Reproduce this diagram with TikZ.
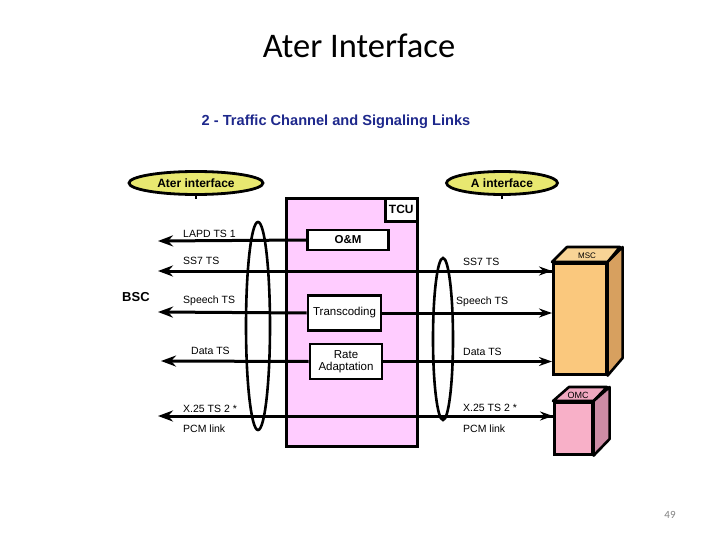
\documentclass[tikz,border=0pt]{standalone}
\usepackage{fontspec}
\setmainfont{Liberation Sans}
\newfontfamily\titlefont{Carlito}
\usetikzlibrary{shapes.geometric,arrows.meta}
\definecolor{tcupink}{RGB}{255,204,255}
\definecolor{ellyellow}{RGB}{232,232,112}
\definecolor{subblue}{RGB}{30,40,140}
\definecolor{mscfront}{RGB}{250,200,125}
\definecolor{msctop}{RGB}{248,212,150}
\definecolor{mscside}{RGB}{215,160,95}
\definecolor{omcfront}{RGB}{248,176,200}
\definecolor{omctop}{RGB}{240,168,192}
\definecolor{omcside}{RGB}{205,140,165}
\definecolor{pagegray}{RGB}{130,130,130}
\begin{document}
\begin{tikzpicture}[x=1pt,y=-1pt,
  link/.style={line width=3pt},
  ltip/.style={-{Stealth[length=15pt,width=11pt]}},
  rtip/.style={-{Stealth[length=13pt,width=9pt]}},
  ibox/.style={draw,line width=2.6pt,fill=white,inner sep=0pt,align=center,font=\fontsize{11.5}{12.5}\selectfont},
  ifell/.style={draw,ellipse,line width=2.8pt,fill=ellyellow,inner sep=0pt,font=\bfseries\fontsize{12}{13}\selectfont},
  grpell/.style={draw,ellipse,line width=2.6pt,inner sep=0pt},
  lbl/.style={anchor=west,inner sep=0pt,font=\fontsize{10.5}{12}\selectfont},
  cube/.style={draw,line width=2.6pt,line join=round},
  cubelbl/.style={inner sep=0pt,font=\fontsize{8}{9}\selectfont}]
\useasboundingbox (0,0) rectangle (720,540);
\fill[white] (0,0) rectangle (720,540);

% titles
\node[font=\titlefont\fontsize{34.5}{40}\selectfont] (title) at (359,46) {Ater Interface};
\node[font=\bfseries\fontsize{14.6}{17}\selectfont,text=subblue] (sub) at (336,122) {2 - Traffic Channel and Signaling Links};

% interface ellipses
\node[ifell,minimum width=134pt,minimum height=23pt] (ater) at (196,183) {Ater interface};
\node[ifell,minimum width=111pt,minimum height=23pt] (aif) at (502,183) {A interface};
\draw[line width=1.6pt] (196,196) -- (196,199);
\draw[line width=1.6pt] (502,196) -- (502,199);

% TCU
\node[draw,line width=2.6pt,fill=tcupink,anchor=north west,minimum width=131pt,minimum height=248pt,inner sep=0pt] (tcu) at (285,197) {};

% MSC cube
\node[draw,line width=2.6pt,fill=mscfront,anchor=north west,minimum width=53pt,minimum height=111pt,inner sep=0pt] (msc) at (552,262) {};
\draw[cube,fill=msctop] (msc.north west) -- ++(15,-15) -- ++(53,0) -- (msc.north east) -- cycle;
\draw[cube,fill=mscside] (msc.north east) -- ++(15,-15) -- ++(0,111) -- (msc.south east) -- cycle;
\node[cubelbl] (msclbl) at (587,256) {MSC};

% OMC cube
\node[draw,line width=2.6pt,fill=omcfront,anchor=north west,minimum width=38pt,minimum height=52pt,inner sep=0pt] (omc) at (553,401) {};
\draw[cube,fill=omctop] (omc.north west) -- ++(16,-14) -- ++(38,0) -- (omc.north east) -- cycle;
\draw[cube,fill=omcside] (omc.north east) -- ++(16,-14) -- ++(0,52) -- (omc.south east) -- cycle;
\node[cubelbl,font=\fontsize{9}{10}\selectfont] (omclbl) at (578,395) {OMC};

% left ends of links
\coordinate (lapdL) at (158,241);
\coordinate (ss7L) at (158,271);
\coordinate (spL) at (158,312);
\coordinate (dataL) at (161,361);
\coordinate (x25L) at (158,416);

\node[ibox,minimum width=81pt,minimum height=20pt] (om) at (348,240) {\bfseries O\&M};
\node[ibox,minimum width=73pt,minimum height=35pt] (trans) at (344.5,313) {Transcoding};
\node[ibox,minimum width=72pt,minimum height=35pt] (rate) at (346,361.5) {Rate\\[-1pt]Adaptation};

% links
\draw[link,ltip] (om.west) -- (lapdL);
\draw[link,ltip] (ss7L -| msc.west) -- (ss7L);
\draw[link,rtip] (ss7L) ++(300,0) -- (ss7L -| msc.west);
\draw[link,ltip] (trans.west) -- (spL);
\draw[link,rtip] (trans.east) -- (trans.east -| msc.west);
\draw[link,ltip] (rate.west) -- (dataL);
\draw[link,rtip] (rate.east) -- (rate.east -| msc.west);
\draw[link,ltip] (x25L -| omc.west) -- (x25L);
\draw[link,rtip] (x25L) ++(300,0) -- (x25L -| omc.west);

% boxes drawn again over the links
\node[ibox,minimum width=81pt,minimum height=20pt] at (om) {\bfseries O\&M};
\node[ibox,minimum width=73pt,minimum height=35pt] at (trans) {Transcoding};
\node[ibox,minimum width=72pt,minimum height=35pt] at (rate) {Rate\\[-1pt]Adaptation};
\node[draw,line width=2.6pt,fill=white,anchor=north east,minimum width=32pt,minimum height=23pt,inner sep=0pt,font=\bfseries\fontsize{12}{13}\selectfont] (tculbl) at (tcu.north east) {TCU};

% group ellipses
\node[grpell,minimum width=24pt,minimum height=208pt] (gl) at (258,326) {};
\node[grpell,minimum width=20pt,minimum height=162pt] (gr) at (443,339) {};

% labels
\node[lbl,font=\bfseries\fontsize{13}{14}\selectfont] (bsc) at (122,297.5) {BSC};
\node[lbl] (l1) at (183,233.5) {LAPD TS 1};
\node[lbl] (l2) at (183,261) {SS7 TS};
\node[lbl] (l3) at (183,300.5) {Speech TS};
\node[lbl] (l4) at (191,351) {Data TS};
\node[lbl] (l5) at (183,409) {X.25 TS 2 *};
\node[lbl] (l6) at (183,429) {PCM link};
\node[lbl] (r2) at (463,262) {SS7 TS};
\node[lbl] (r3) at (456,302) {Speech TS};
\node[lbl] (r4) at (463,352) {Data TS};
\node[lbl] (r5) at (463,408) {X.25 TS 2 *};
\node[lbl] (r6) at (463,429) {PCM link};

\node[font=\titlefont\fontsize{11}{12}\selectfont,text=pagegray] (page) at (670,515) {49};
\end{tikzpicture}
\end{document}
